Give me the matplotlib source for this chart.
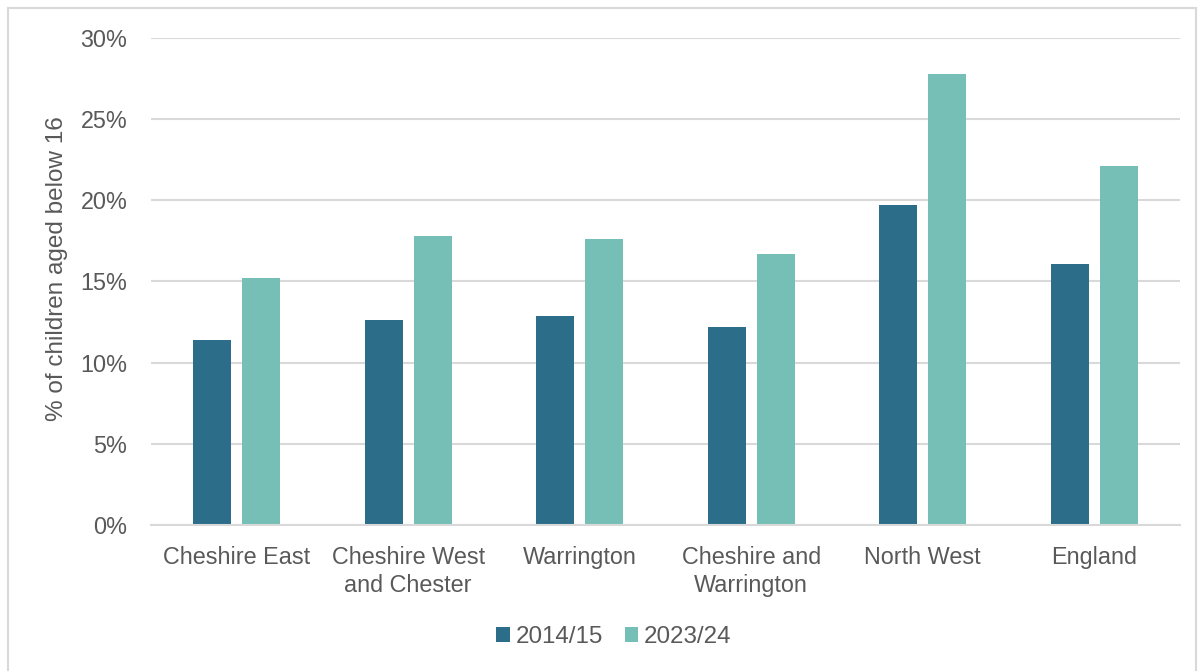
import numpy as np
import matplotlib.pyplot as plt
from matplotlib.patches import Rectangle
from matplotlib.ticker import FuncFormatter

plt.rcParams['font.family'] = ['Liberation Sans', 'DejaVu Sans']

areas = ["Cheshire East", "Cheshire West\nand Chester", "Warrington",
         "Cheshire and\nWarrington", "North West", "England"]
pct_2014_15 = [11.4, 12.6, 12.9, 12.2, 19.7, 16.1]
pct_2023_24 = [15.2, 17.8, 17.6, 16.7, 27.8, 22.1]
series_names = ["2014/15", "2023/24"]

dark_teal = "#2c6e8a"
light_teal = "#76bfb7"
text_grey = "#595959"
grid_grey = "#d9d9d9"

fig = plt.figure(figsize=(12.04, 6.71), dpi=100)
ax = fig.add_axes([0.1254, 0.2176, 0.8546, 0.7258])

# light frame around the whole chart
fig.patches.append(Rectangle((8 / 1204, -0.05), 1188 / 1204, 1.05 - 8 / 671,
                             transform=fig.transFigure, fill=False,
                             edgecolor=grid_grey, linewidth=1.5))

x = np.arange(len(areas))
bar_w = 0.22
offset = 0.143
ax.bar(x - offset, pct_2014_15, bar_w, color=dark_teal, label=series_names[0], zorder=3)
ax.bar(x + offset, pct_2023_24, bar_w, color=light_teal, label=series_names[1], zorder=3)

ax.set_xlim(-0.5, len(areas) - 0.5)
ax.set_ylim(0, 30)
ax.set_yticks(np.arange(0, 31, 5))
ax.yaxis.set_major_formatter(FuncFormatter(lambda v, p: f"{v:.0f}%"))
ax.grid(axis="y", color=grid_grey, linewidth=1.5, zorder=0)
ax.set_axisbelow(True)

for side in ["top", "right", "left"]:
    ax.spines[side].set_visible(False)
ax.spines["bottom"].set_color(grid_grey)
ax.spines["bottom"].set_linewidth(1.5)
ax.spines["bottom"].set_zorder(4)

ax.set_xticks(x)
ax.set_xticklabels(areas, linespacing=1.3)
ax.tick_params(axis="both", length=0, labelsize=16.8, labelcolor=text_grey)
ax.tick_params(axis="x", pad=15)
ax.tick_params(axis="y", pad=17)

ax.set_ylabel("% of children aged below 16", fontsize=17.5, color=text_grey)
ax.yaxis.set_label_coords(-0.081, 0.526)

ax.legend(loc="center", bbox_to_anchor=(0.51, 34 / 671),
          bbox_transform=fig.transFigure, ncol=2, frameon=False,
          fontsize=17.4, labelcolor=text_grey, handlelength=0.55, handleheight=0.55,
          handletextpad=0.25, columnspacing=0.9)

fig.savefig("out.png", dpi=100)
